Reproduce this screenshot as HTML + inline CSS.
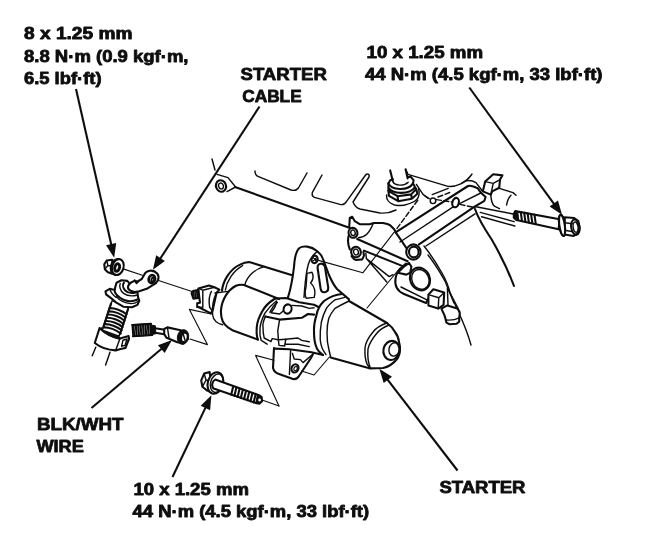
<!DOCTYPE html>
<html><head><meta charset="utf-8">
<style>
html,body{margin:0;padding:0;background:#fff;}
svg{display:block;}
text{font-family:"Liberation Sans",sans-serif;font-weight:bold;fill:#111;stroke:#111;stroke-width:0.8;stroke-linejoin:round;}
.l{vector-effect:non-scaling-stroke;fill:none;stroke:#111;stroke-width:1.45;stroke-linecap:round;stroke-linejoin:round;}
.t{vector-effect:non-scaling-stroke;fill:none;stroke:#111;stroke-width:1.15;stroke-linecap:round;stroke-linejoin:round;}
.k{vector-effect:non-scaling-stroke;fill:none;stroke:#111;stroke-width:2.1;stroke-linecap:round;stroke-linejoin:round;}
.ld{fill:none;stroke:#111;stroke-width:2.1;}
.ah{fill:#111;stroke:none;}
.f{fill:#111;stroke:#111;stroke-width:1;vector-effect:non-scaling-stroke;stroke-linejoin:round;}
.w{fill:#fff;stroke:#111;stroke-width:1.45;vector-effect:non-scaling-stroke;stroke-linejoin:round;}
.wk{fill:#fff;stroke:#111;stroke-width:2.1;vector-effect:non-scaling-stroke;stroke-linejoin:round;}
</style></head><body>
<svg width="650" height="546" viewBox="0 0 650 546">
<defs><filter id="soft" x="0" y="0" width="650" height="546" filterUnits="userSpaceOnUse"><feGaussianBlur stdDeviation="0.45"/></filter></defs>
<rect width="650" height="546" fill="#fff"/>
<g filter="url(#soft)">
<!-- TEXT -->
<g font-size="16.3">
<text x="24" y="39.3" textLength="108.5" lengthAdjust="spacingAndGlyphs">8 x 1.25 mm</text>
<text x="24" y="61.8" textLength="164.5" lengthAdjust="spacingAndGlyphs">8.8 N·m (0.9 kgf·m,</text>
<text x="24" y="84.2" textLength="77.5" lengthAdjust="spacingAndGlyphs">6.5 lbf·ft)</text>
<text x="366.6" y="58" textLength="116.5" lengthAdjust="spacingAndGlyphs">10 x 1.25 mm</text>
<text x="365" y="79.6" textLength="237.5" lengthAdjust="spacingAndGlyphs">44 N·m (4.5 kgf·m, 33 lbf·ft)</text>
<text x="133.4" y="495.4" textLength="115.5" lengthAdjust="spacingAndGlyphs">10 x 1.25 mm</text>
<text x="132.6" y="516.6" textLength="236.5" lengthAdjust="spacingAndGlyphs">44 N·m (4.5 kgf·m, 33 lbf·ft)</text>
</g>
<g font-size="17.3">
<text x="240.5" y="79.5" textLength="86.3" lengthAdjust="spacingAndGlyphs">STARTER</text>
<text x="242.2" y="101.5" textLength="59.5" lengthAdjust="spacingAndGlyphs">CABLE</text>
<text x="37" y="429.6" textLength="86.5" lengthAdjust="spacingAndGlyphs">BLK/WHT</text>
<text x="36.4" y="451.6" textLength="47.5" lengthAdjust="spacingAndGlyphs">WIRE</text>
<text x="439.4" y="492.6" textLength="86.1" lengthAdjust="spacingAndGlyphs">STARTER</text>
</g>
<!-- LEADERS -->
<g id="leaders">
<path class="ld" d="M76.0 89.0 L111.6 246.1"/>
<path class="ah" d="M114.2 257.8 L106.0 245.3 L116.2 243.0 Z"/>
<path class="ld" d="M259.5 106.5 L159.5 259.8"/>
<path class="ah" d="M152.9 269.8 L156.2 255.2 L164.9 260.9 Z"/>
<path class="ld" d="M469.3 87.5 L554.9 205.1"/>
<path class="ah" d="M562.0 214.8 L549.6 206.5 L558.0 200.4 Z"/>
<path class="ld" d="M172.5 477.0 L206.2 406.1"/>
<path class="ah" d="M211.4 395.3 L210.1 410.2 L200.7 405.7 Z"/>
<path class="ld" d="M91.5 408.0 L162.8 347.8"/>
<path class="ah" d="M172.0 340.1 L164.7 353.1 L157.9 345.2 Z"/>
<path class="ld" d="M457.5 470.5 L386.6 378.3"/>
<path class="ah" d="M379.3 368.8 L392.0 376.7 L383.7 383.1 Z"/>
</g>
<!-- ART -->
<g id="art">
<!-- ENGINE: origin 200,140 scale .2 -->
<g transform="translate(200,140) scale(0.2)">
<path class="l" d="M60 95 L75 150"/>
<path class="l" d="M85 172 L140 188 L178 235 L135 258"/>
<ellipse class="wk" cx="105" cy="230" rx="25" ry="29" transform="rotate(-20 105 230)"/>
<ellipse class="l" cx="105" cy="230" rx="12" ry="15" transform="rotate(-20 105 230)"/>
<path class="k" d="M175 235 L750 440"/>
<path class="l" d="M275 155 C275 170 280 178 290 182 L455 250 C475 255 485 250 492 240 L535 165"/>
<path class="l" d="M610 175 L562 262 C558 275 562 282 572 287 L700 322 C715 326 725 320 732 308 L828 175 C835 165 850 170 845 185 L765 310 C775 335 790 342 800 345 L900 365 C930 368 960 360 980 350"/>
<!-- sensor -->
<path class="k" d="M951 152 L964 205 M1028 146 L1038 192"/>
<path class="l" d="M964 208 C975 230 1020 232 1041 211"/>
<path class="k" d="M942 217 C955 250 1040 258 1065 217 M942 217 L951 201 L964 196 M1040 185 L1053 183 L1068 201 L1065 217"/>
<path class="k" d="M942 238 C960 272 1050 275 1075 235 M942 217 L942 254 M1065 217 L1075 235 L1081 245"/>
<path class="k" d="M942 254 L988 281 L1056 272 L1081 245 M942 254 L945 279 L991 306 L1059 294 L1087 269 L1081 245 M988 281 L991 306 M1056 272 L1059 294"/>
<path class="l" d="M933 275 C930 300 950 318 973 325 C1000 330 1020 328 1035 322 C1060 315 1078 305 1084 297 C1095 285 1098 265 1093 245"/>
<path class="l" d="M1030 150 L1040 172 L1240 232 C1280 235 1330 215 1360 170"/>
<path class="l" d="M1082 222 L1115 272 L1140 291"/>
<!-- left bracket with two bosses -->
<path class="k" d="M746 437 L749 390 L761 384 L774 406 L798 421 L848 421 L869 415 L915 415 C935 418 945 422 952 427 L971 446 L980 464 L1008 504 L1045 560"/>
<path class="l" d="M792 489 C810 487 825 480 832 473 C845 462 855 445 866 418"/>
<ellipse class="wk" cx="765" cy="464" rx="22" ry="25" transform="rotate(-15 765 464)"/><ellipse class="l" cx="765" cy="464" rx="11" ry="14" transform="rotate(-15 765 464)"/>
<path class="k" d="M743 480 C738 500 738 520 749 547 M758 581 C765 592 772 598 780 600 L811 597 L820 578 L817 560"/>
<ellipse class="wk" cx="780" cy="560" rx="24" ry="26" transform="rotate(-15 780 560)"/><ellipse class="l" cx="780" cy="560" rx="12" ry="15" transform="rotate(-15 780 560)"/>
<path class="k" d="M786 495 L1038 606"/>
<path class="k" d="M820 553 L1020 633 L1045 615"/>
<path class="l" d="M829 566 L832 593 L946 683 L965 673 M832 593 L934 710"/>
<path class="wk" d="M989 664 L1020 633 L1045 615 L1057 633 L1051 664 L1032 673 Z"/>
<!-- axis thin lines -->
<path class="t" d="M575 597 L814 664 L971 461"/>
<path class="l" stroke-dasharray="5 2.5" d="M985 442 L1096 291"/>
<path class="t" d="M835 840 L1000 640"/>
<!-- plate bar to upper right -->
<path class="k" d="M978 462 L1340 230 C1350 226 1360 226 1389 242 L1405 264 L1428 285 L1422 304 L1371 334 L1095 522"/>
<path class="l" d="M1309 215 C1325 205 1335 202 1343 202 C1360 202 1372 208 1380 213 L1412 255"/>
<path class="l" d="M1000 510 L1262 337 M1298 318 L1404 265"/>
<path class="l" d="M1130 530 L1375 369"/>
<path class="l" d="M1161 273 L1241 242"/>
<ellipse class="k" cx="1278" cy="313" rx="16" ry="24" transform="rotate(15 1278 313)"/>
<path class="l" stroke-dasharray="5 2.5" d="M1125 280 L1150 296 M1182 298 L1260 310 M1300 322 L1375 338 M1190 285 L1250 262"/>
<circle class="l" cx="1165" cy="304" r="14"/>
<!-- tab -->
<path class="wk" d="M1414 257 L1426 208 L1466 171 L1512 177 L1500 198 L1496 239 L1461 257 L1454 273 Z"/>
<path class="l" d="M1426 208 L1466 217 L1500 198 M1466 217 L1454 273"/>
<!-- pipe behind -->
<path class="l" d="M1496 242 L1565 263 L1580 276 M1555 276 C1545 285 1537 300 1533 325 M1454 273 C1455 295 1460 320 1472 331 L1497 343"/>
<!-- sleeve lines -->
<path class="l" d="M1380 334 L1571 371 M1401 362 L1571 408 M1408 384 L1574 430"/>
<!-- bell housing arcs -->
<path class="k" d="M1375 345 C1390 390 1420 440 1460 500 C1500 570 1540 650 1570 730"/>
<path class="l" d="M1120 530 C1160 580 1190 630 1210 665 C1230 700 1245 740 1250 765 L1290 855 C1320 920 1340 970 1355 1025"/>
<path class="l" d="M1140 575 C1180 625 1205 670 1225 705 L1270 815"/>
<!-- big boss -->
<ellipse class="wk" cx="1067" cy="560" rx="36" ry="38"/><ellipse class="k" cx="1069" cy="560" rx="24" ry="27"/>
<path class="k" d="M1030 618 C1000 640 982 660 978 690 C972 725 985 755 1020 770 L1130 815 L1150 778"/>
<ellipse class="k" cx="1100" cy="695" rx="49" ry="58" transform="rotate(-25 1100 695)"/>
<ellipse class="l" cx="1102" cy="697" rx="42" ry="51" transform="rotate(-25 1102 697)"/>
<path class="l" d="M1005 735 L1142 803"/>
<path class="l" d="M1237 740 L1240 824 M1240 745 L1291 843"/>
<path class="wk" d="M1207 843 L1237 827 L1286 843 C1295 852 1299 860 1299 867 L1296 889 L1296 908 L1283 919 L1248 921 L1232 913 L1229 900 L1223 878 Z"/>
<path class="l" d="M1229 900 C1250 902 1275 900 1296 889"/>
<path class="wk" d="M1142 773 L1167 746 L1221 762 L1218 824 L1191 843 L1142 827 Z"/>
<path class="l" d="M1142 773 L1194 789 L1221 762 M1194 789 L1191 843"/>
</g>
<!-- UPPER RIGHT BOLT: origin 440,170 scale 0.24615 -->
<g transform="translate(440,170) scale(0.24615)">
<path class="wk" d="M300 178 L306 167 L486 200 L482 241 L310 203 L300 194 Z"/>
<path class="f" d="M300 178 L306 167 L316 169 L320 205 L310 203 L300 194 Z"/>
<path class="k" d="M328 171 L333 207 M342 174 L347 210 M356 177 L361 213 M370 179 L375 216 M384 182 L389 219"/>
<ellipse class="wk" cx="496" cy="225" rx="11" ry="43" transform="rotate(-8 496 225)"/>
<path class="wk" d="M507 192 L545 195 L562 208 L567 235 L560 258 L543 268 L506 262 Z"/>
<path class="l" d="M507 214 L538 218 M506 245 L535 250"/>
<ellipse class="wk" cx="496" cy="225" rx="11" ry="43" transform="rotate(-8 496 225)"/>
<ellipse class="k" cx="550" cy="232" rx="17" ry="31" transform="rotate(-8 550 232)"/>
<ellipse class="l" cx="551" cy="232" rx="10" ry="21" transform="rotate(-8 551 232)"/>
</g>
<!-- LOWER BOLT: origin 190,350 scale 0.2 -->
<g transform="translate(190,350) scale(0.2)">
<path class="t" d="M360 250 L445 280"/>
<path class="wk" d="M98 110 L71 118 L56 152 L62 184 L86 203 L112 212 Z"/>
<path class="l" d="M71 118 L80 150 L62 184 M80 150 L100 155"/>
<ellipse class="wk" cx="127" cy="165" rx="38" ry="55" transform="rotate(16 127 165)"/>
<ellipse class="l" cx="134" cy="166" rx="31" ry="47" transform="rotate(16 134 166)"/>
<path class="wk" d="M126 148 L345 226 L358 236 L360 256 L348 268 L333 266 L118 193 C106 182 110 155 126 148 Z"/>
<path class="k" d="M216 182 L206 224 M232 188 L222 230 M248 194 L238 235 M264 199 L254 240 M280 205 L270 246 M296 210 L286 251 M312 216 L302 256 M328 222 L318 262 M340 226 L332 265"/>
<path class="f" d="M338 226 L358 236 L360 256 L348 268 L330 265 Z"/>
<circle cx="348" cy="250" r="7" fill="#fff"/>
</g>
<!-- TILE A: origin 85,245 (connector, zigzag) -->
<g transform="translate(85,245) scale(0.2)">
<path class="t" d="M522 322 L630 345 M522 322 L612 498 L525 470"/>
<!-- clamp + cable -->
<path class="l" d="M54 511 L36 554 M125 536 L103 600"/>
<path class="wk" d="M73 415 L49 490 C80 515 120 525 153 527 L178 520 L202 515 L220 470 L218 455 L175 468 C140 462 100 440 73 415 Z"/>
<path class="l" d="M175 468 L153 527 M190 476 L210 470 L200 502 L183 506 Z"/>
<path d="M76 416 C105 442 140 460 175 466" fill="none" stroke="#111" stroke-width="3" vector-effect="non-scaling-stroke"/>
<!-- small connector: spring -->
<path class="w" d="M236 400 L330 394 L336 450 L240 456 Z"/>
<path class="k" d="M236 400 L330 394 M240 456 L336 450 M242 402 L246 454 M254 401 L258 453 M266 400 L270 453 M278 399 L282 452 M290 398 L294 452 M302 397 L306 451 M314 396 L318 451 M326 396 L330 450"/>
<path class="f" d="M328 400 L352 404 L354 444 L334 448 Z"/>
<path class="k" d="M332 414 L400 424 M336 436 L396 446"/>
<path class="wk" d="M396 420 L412 412 L478 426 L505 438 L514 470 L492 492 L462 486 L408 464 L396 446 Z"/>
<ellipse class="f" cx="490" cy="460" rx="28" ry="37" transform="rotate(12 490 460)"/>
<ellipse cx="497" cy="462" rx="11" ry="19" transform="rotate(12 497 462)" fill="#fff"/>
<path class="l" d="M492 448 L500 476"/>
<path class="l" d="M412 412 L420 464"/>
</g>
<!-- TILE B: origin 95,255 scale 1/8.125 (nut, terminal, boot, sleeve) -->
<g transform="translate(95,255) scale(0.12308)">
<path class="t" d="M235 115 L385 165 M510 205 L800 300"/>
<!-- sleeve -->
<path class="w" d="M140 370 L60 610 L195 660 L275 420 Z"/>
<path class="k" d="M130 395 L68 585 M268 440 L205 640"/>
<path class="k" d="M118 432 C160 430 220 450 256 482 M110 458 C152 456 212 476 248 508 M102 484 C144 482 204 502 240 534 M94 510 C136 508 196 528 232 560 M86 536 C128 534 188 554 224 586 M78 562 C120 560 180 580 216 612 M70 588 C112 586 172 606 208 638"/>
<!-- boot flange -->
<path class="wk" d="M85 295 L120 275 L160 285 L165 260 L175 225 L215 205 L262 210 L345 305 L350 345 L360 370 L345 405 L300 425 L230 420 L170 385 L130 350 L90 320 Z"/>
<path class="k" d="M160 300 C175 335 225 370 270 375 C300 378 325 372 345 362"/>
<path class="l" d="M175 340 C205 375 250 392 290 395 C315 396 335 388 348 378"/>
<path class="l" d="M165 260 C160 280 160 295 162 302 M120 275 C128 300 150 330 172 345"/>
<!-- boot mouth -->
<path class="k" d="M235 225 C222 240 228 268 245 288 C262 305 300 312 332 304"/>
<path class="l" d="M205 232 C195 255 205 290 232 312 C258 330 300 338 345 325"/>
<!-- lug -->
<path class="wk" d="M270 250 L290 225 L320 210 L345 216 L380 195 L400 160 C415 125 470 112 505 150 C530 185 510 228 470 245 L420 275 L360 295 L320 300 L290 290 C272 282 265 265 270 250 Z"/>
<ellipse cx="462" cy="196" rx="26" ry="33" transform="rotate(15 462 196)" fill="#fff" stroke="#111" stroke-width="2.6" vector-effect="non-scaling-stroke"/>
<ellipse class="k" cx="470" cy="200" rx="11" ry="17" transform="rotate(15 470 200)"/>
<path class="k" d="M322 206 L338 228 L352 214"/>
<!-- nut -->
<path class="wk" d="M140 38 L95 45 L75 75 L80 115 L105 140 L140 152 Z"/>
<path class="l" d="M95 45 L105 85 L80 115 M105 85 L138 90"/>
<ellipse class="wk" cx="176" cy="97" rx="47" ry="66" transform="rotate(16 176 97)"/>
<ellipse class="wk" cx="186" cy="98" rx="46" ry="66" transform="rotate(16 186 98)"/>
<ellipse cx="180" cy="102" rx="19" ry="31" transform="rotate(16 180 102)" fill="#fff" stroke="#111" stroke-width="3" vector-effect="non-scaling-stroke"/>
</g>
<!-- STARTER: origin 195,235 scale .2 -->
<g transform="translate(195,235) scale(0.2)">
<!-- terminal block -->
<path class="wk" d="M-17 292 L-10 280 L20 274 L23 314 L-8 318 Z"/>
<path class="l" d="M-8 282 L-5 316 M0 280 L3 315 M8 278 L11 314 M15 276 L18 313"/>
<path class="wk" d="M17 267 L70 252 L97 261 L122 273 L108 288 L88 378 L79 392 L17 360 L11 360 L11 341 L25 338 L20 300 Z"/>
<path class="l" d="M17 267 L39 276 L97 261 M39 276 L39 362 L11 360"/>
<path class="l" d="M82 282 C72 300 68 330 73 360 L85 378"/>
<!-- rear motor cylinder -->
<path class="k" d="M135 278 C140 230 175 170 225 148 C245 138 262 134 275 136 L482 200"/>
<path class="l" d="M152 275 C158 232 190 180 238 153"/>
<path class="l" d="M345 158 C300 170 262 205 250 246"/>
<!-- solenoid -->
<path class="k" d="M420 320 L245 250 C235 248 220 248 205 254 C165 275 135 320 130 375 C128 410 140 445 165 462 L190 478 L314 523"/>
<path class="l" d="M108 288 C92 320 84 360 88 400 C92 425 108 442 138 449 M100 290 L165 282"/>
<path class="k" d="M397 320 C365 340 345 365 337 380 C320 410 310 435 309 460 C307 485 308 505 314 523"/>
<path class="l" d="M407 330 C380 350 360 375 349 392 C335 420 327 445 325 466 C323 490 325 510 331 527 L361 546 M412 337 C395 350 382 368 374 386"/>
<!-- bracket top ear -->
<path class="k" d="M465 312 C478 270 488 220 495 160 C498 110 505 80 522 65 C540 52 580 55 610 80 C625 92 635 105 640 120 L670 200 C685 235 700 258 710 270 L770 322"/>
<path class="l" d="M545 312 C548 270 552 220 560 175 C566 135 580 105 612 82"/>
<ellipse class="k" cx="598" cy="122" rx="15" ry="19" transform="rotate(15 598 122)"/><path class="t" d="M590 112 L606 132 M606 114 L590 130"/>
<path class="k" d="M613 165 C610 138 645 136 650 160 L666 262 C668 292 632 294 628 268 Z"/>
<path class="l" d="M560 192 L585 186 C592 200 592 222 578 240 C598 255 605 285 596 312 L556 316 C548 300 550 280 555 260 Z"/>
<!-- housing -->
<path class="k" d="M398 318 L454 315 C480 322 500 330 521 336 L595 349 L620 361"/>
<path class="l" d="M484 352 L534 355 L571 367 L595 364"/>
<path class="l" d="M408 333 C405 350 400 365 380 389 L423 395 L441 380"/>
<ellipse class="k" cx="463" cy="370" rx="20" ry="23" transform="rotate(15 463 370)"/>
<path class="k" d="M352 407 L423 423 L534 414 L565 395 L595 398"/>
<path class="l" d="M352 407 C342 430 338 450 340 460 C340 485 342 500 346 515 L380 533 L386 518 L417 524 L454 521 L515 515 L534 527 L571 534"/>
<path class="l" d="M423 423 L414 478 L417 524 L420 552 L448 555 L454 521 M454 546 L515 546 L571 558"/>

<path class="k" d="M395 565 L390 665 C395 685 410 692 420 695 L490 720 C505 722 515 715 520 705 L580 615 L590 595"/>
<ellipse class="k" cx="500" cy="667" rx="17" ry="21" transform="rotate(25 500 667)"/><ellipse class="t" cx="503" cy="668" rx="8" ry="11" transform="rotate(25 503 668)"/>
<path class="l" d="M478 577 L472 697 M487 592 L496 620 L527 623 L540 638 L583 601"/>
<path class="k" d="M398 568 L472 571 L583 586 L640 600"/>
<!-- nose -->
<path class="k" d="M735 295 C700 298 670 312 645 330 C625 350 612 375 608 398 C598 430 594 455 595 478 C595 505 597 530 602 546 C606 562 612 575 620 583 L640 600"/>
<path class="l" d="M750 312 C725 318 710 322 700 324 C680 340 665 355 657 367 C645 390 637 412 632 435 C627 465 625 495 626 521 C628 545 635 568 645 583 L655 598"/>
<path class="l" d="M770 330 C745 342 720 355 700 367 C685 385 675 400 669 416 C662 440 660 465 660 490 C660 520 663 548 669 570 L678 610"/>
<path class="k" d="M770 330 L960 440 M678 612 L872 666"/>
<path class="l" d="M960 440 C930 450 905 465 890 485 C865 515 852 540 850 565 C848 600 852 625 860 645 L875 665"/>
<path class="l" d="M970 450 C945 460 925 472 910 490 C885 520 870 545 865 570 C862 605 865 635 875 660"/>
<path class="k" d="M960 440 C980 455 992 470 1000 485 C1012 500 1018 515 1020 535 C1025 550 1026 560 1025 575 C1024 595 1020 608 1010 620 C990 645 965 660 940 665 L875 667"/>
<ellipse class="k" cx="982" cy="577" rx="40" ry="48" transform="rotate(12 982 577)"/>
<ellipse class="l" cx="996" cy="572" rx="26" ry="34" transform="rotate(12 996 572)"/>
<!-- zigzags -->
<path class="t" d="M303 602 L395 626 M303 602 L420 855"/>
<path class="t" d="M533 680 L595 700 L672 610"/>
</g>
</g>
</g>
</svg>
</body></html>
